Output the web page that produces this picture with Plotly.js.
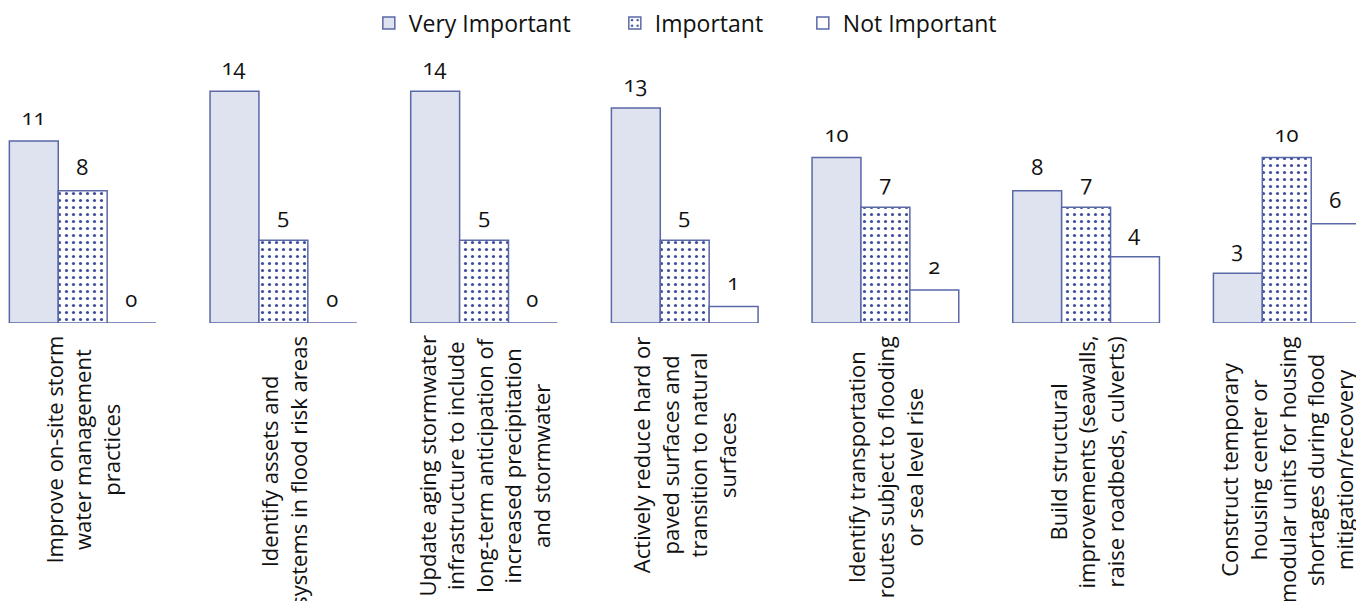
<!DOCTYPE html>
<html>
<head>
<meta charset="utf-8">
<script src="https://cdn.plot.ly/plotly-3.0.1.min.js"></script>
<style>
html,body{margin:0;padding:0;background:#fff;}
#chart{width:1356px;height:601px;}
#chart text{font-feature-settings:"onum" 1; font-variant-numeric:oldstyle-nums;}
</style>
</head>
<body>
<div id="chart"></div>
<script>
var categories = [
  "Improve on-site storm<br>water management<br>practices",
  "Identify assets and<br>systems in flood risk areas",
  "Update aging stormwater<br>infrastructure to include<br>long-term anticipation of<br>increased precipitation<br>and stormwater",
  "Actively reduce hard or<br>paved surfaces and<br>transition to natural<br>surfaces",
  "Identify transportation<br>routes subject to flooding<br>or sea level rise",
  "Build structural<br>improvements (seawalls,<br>raise roadbeds, culverts)",
  "Construct temporary<br>housing center or<br>modular units for housing<br>shortages during flood<br>mitigation/recovery"
];
var seriesNames = ["Very Important", "Important", "Not Important"];
var veryImportant = [11, 14, 14, 13, 10, 8, 3];
var important = [8, 5, 5, 5, 7, 7, 10];
var notImportant = [0, 0, 0, 1, 2, 4, 6];

var FONT = "'Open Sans', Lato, sans-serif";
var LINE = "#5a68a8";
var BARGAP = 0.269;
var YMAX = 16.5;
var xs = categories.map(function(_, i){ return i; });

var traces = [
  {type:"bar", name:seriesNames[0], x:xs, y:veryImportant, legendwidth:201,
   marker:{color:"#dfe2ef", line:{color:LINE, width:1.5}}, hoverinfo:"none"},
  {type:"bar", name:seriesNames[1], x:xs, y:important, legendwidth:143,
   marker:{color:"#ffffff", line:{color:LINE, width:1.5},
     pattern:{shape:".", fgcolor:"#3e4e9c", bgcolor:"#ffffff", size:7, solidity:0.16}}, hoverinfo:"none"},
  {type:"bar", name:seriesNames[2], x:xs, y:notImportant,
   marker:{color:"#ffffff", line:{color:LINE, width:1.5}}, hoverinfo:"none"}
];

var series = [veryImportant, important, notImportant];
var bw = (1 - BARGAP) / 3;
var annotations = [];
series.forEach(function(vals, j){
  vals.forEach(function(v, i){
    annotations.push({xref:"x", yref:"y", x:i + (j - 1) * bw, y:v, text:String(v),
      showarrow:false, yanchor:"middle", yshift:25,
      font:{family:FONT, size:22, color:"#111"}});
  });
});
categories.forEach(function(c, i){
  annotations.push({xref:"x", yref:"paper", x:i, y:-0.04, text:c, textangle:-90,
    showarrow:false, xanchor:"center", yanchor:"top", align:"center",
    font:{family:FONT, size:22, color:"#111"}});
});

var layout = {
  width:1356, height:601,
  margin:{l:0, r:0, t:50, b:278, pad:0},
  paper_bgcolor:"#fff", plot_bgcolor:"#fff",
  barmode:"group", bargap:BARGAP, bargroupgap:0,
  showlegend:true,
  legend:{orientation:"h", x:0.272, xanchor:"left", y:1.099, yanchor:"middle",
    font:{family:FONT, size:23, color:"#111"}, traceorder:"normal", itemwidth:30},
  xaxis:{type:"linear", range:[-0.4121, 6.345], showticklabels:false, showgrid:false,
    zeroline:false, showline:false, ticks:"", fixedrange:true},
  yaxis:{range:[0, YMAX], showticklabels:false, showgrid:false, zeroline:false,
    showline:false, ticks:"", fixedrange:true},
  annotations:annotations
};

Plotly.newPlot("chart", traces, layout, {staticPlot:true, displayModeBar:false});
</script>
</body>
</html>
